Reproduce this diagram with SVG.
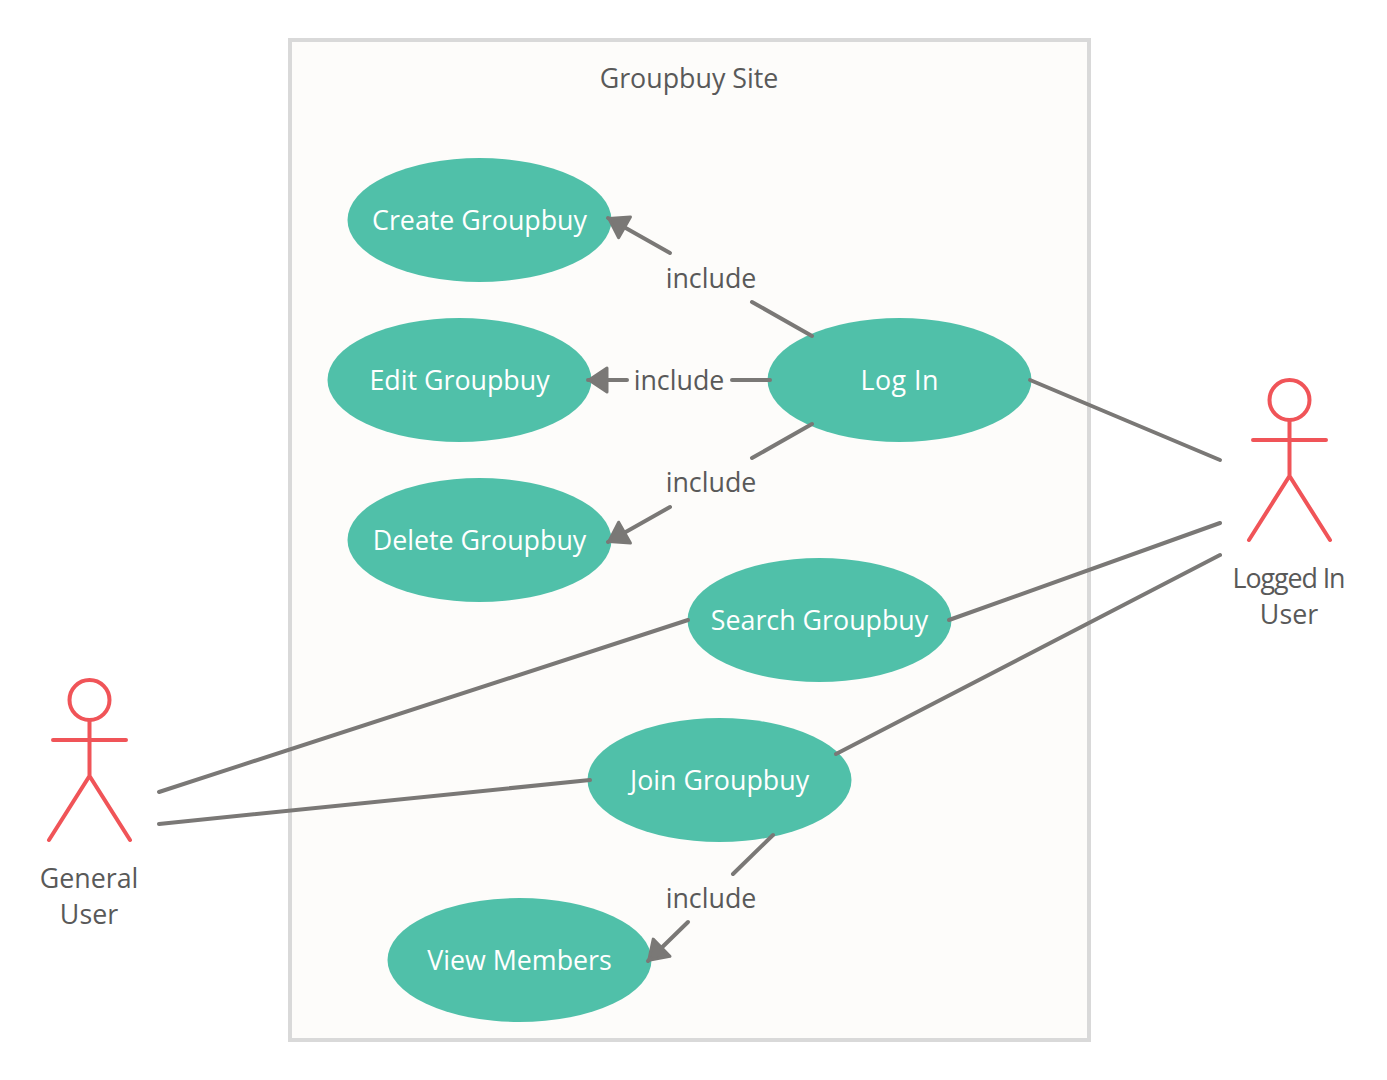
<svg xmlns="http://www.w3.org/2000/svg" width="1387" height="1080" viewBox="0 0 1387 1080">
<defs><marker id="arrow" markerUnits="userSpaceOnUse" markerWidth="26" markerHeight="30" refX="22" refY="15" orient="auto"><path d="M3 3L21 15L3 27Z" fill="#7a7876" stroke="#7a7876" stroke-width="3" stroke-linejoin="round"/></marker></defs>
<style>
text{font-family:"Open Sans","Noto Sans",sans-serif;font-size:26.8px;text-anchor:middle}
.u ellipse{fill:#50c0a9}
.u text{fill:#fff}
.l{fill:#595959}
.c line{stroke:#7a7876;stroke-width:4;fill:none;stroke-linecap:round}
.a{fill:none;stroke:#f05458;stroke-width:4;stroke-linecap:round}
</style>
<rect width="1387" height="1080" fill="#fff"/>
<g id="boundary"><rect x="290" y="40" width="799" height="1000" fill="#fdfcfa" stroke="#d9d9d9" stroke-width="4"/><text class="l" x="689" y="88">Groupbuy Site</text></g>
<g id="create" class="u"><ellipse cx="479.500" cy="220" rx="132" ry="62"/><text x="479.500" y="230">Create Groupbuy</text></g>
<g id="edit" class="u"><ellipse cx="459.500" cy="380" rx="132" ry="62"/><text x="459.500" y="390">Edit Groupbuy</text></g>
<g id="delete" class="u"><ellipse cx="479.500" cy="540" rx="132" ry="62"/><text x="479.500" y="550">Delete Groupbuy</text></g>
<g id="login" class="u"><ellipse cx="899.500" cy="380" rx="132" ry="62"/><text x="899.500" y="390" textLength="78">Log In</text></g>
<g id="search" class="u"><ellipse cx="819.500" cy="620" rx="132" ry="62"/><text x="819.500" y="630">Search Groupbuy</text></g>
<g id="join" class="u"><ellipse cx="719.500" cy="780" rx="132" ry="62"/><text x="719.500" y="790">Join Groupbuy</text></g>
<g id="view" class="u"><ellipse cx="519.500" cy="960" rx="132" ry="62"/><text x="519.500" y="970">View Members</text></g>
<g id="connectors" class="c">
<line x1="1030" y1="380" x2="1220" y2="460"/>
<line x1="949" y1="620" x2="1220" y2="523"/>
<line x1="836" y1="754" x2="1220" y2="555"/>
<line x1="159" y1="792" x2="688" y2="620"/>
<line x1="159" y1="824" x2="590" y2="780"/>
<line x1="812" y1="336" x2="752" y2="302"/><line x1="670" y1="253" x2="608" y2="218" marker-end="url(#arrow)"/>
<line x1="770" y1="380" x2="732" y2="380"/><line x1="627" y1="380" x2="588" y2="380" marker-end="url(#arrow)"/>
<line x1="812" y1="424" x2="752" y2="458"/><line x1="670" y1="507" x2="608" y2="542" marker-end="url(#arrow)"/>
<line x1="773" y1="835" x2="733" y2="874"/><line x1="688" y1="922" x2="648" y2="961" marker-end="url(#arrow)"/>
</g>
<g id="labels"><text class="l" x="711" y="288">include</text><text class="l" x="679" y="390">include</text><text class="l" x="711" y="492">include</text><text class="l" x="711" y="908">include</text></g>
<g id="general-user"><circle class="a" cx="89.500" cy="700" r="20"/><path class="a" d="M89.500 720V776M53 740H126M49 840L89.500 776L130 840"/><text class="l" x="89" y="888">General</text><text class="l" x="89" y="924">User</text></g>
<g id="logged-in-user"><circle class="a" cx="1289.500" cy="400" r="20"/><path class="a" d="M1289.500 420V476M1253 440H1326M1249 540L1289.500 476L1330 540"/><text class="l" x="1289" y="588" textLength="113">Logged In</text><text class="l" x="1289" y="624">User</text></g>
</svg>
